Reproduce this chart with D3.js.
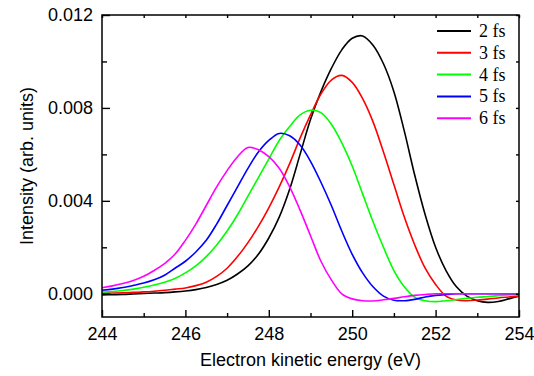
<!DOCTYPE html>
<html><head><meta charset="utf-8">
<script src="https://cdn.jsdelivr.net/npm/d3@7"></script>
<style>body{margin:0;background:#fff} svg{display:block}</style>
</head><body><svg id="c" width="534" height="376"></svg>
<script>
const energy = [244,244.25,244.5,244.75,245,245.25,245.5,245.75,246,246.25,246.5,246.75,247,247.25,247.5,247.75,248,248.25,248.5,248.75,249,249.25,249.5,249.75,250,250.25,250.5,250.75,251,251.25,251.5,251.75,252,252.25,252.5,252.75,253,253.25,253.5,253.75,254];
const s2fs = [-0.00005,-0.00004,-0.00003,-0.00001,0.00001,0.00003,0.00005,0.00008,0.00012,0.00018,0.00027,0.0004,0.00058,0.00085,0.0012,0.0017,0.0024,0.0033,0.0045,0.0060,0.0075,0.0087,0.0097,0.0105,0.0110,0.0111,0.0107,0.0099,0.0087,0.0070,0.0051,0.0034,0.0020,0.0010,0.0003,-0.0001,-0.0003,-0.00037,-0.00033,-0.00022,-0.0001];
const s3fs = [0.00002,0.00003,0.00004,0.00006,0.00008,0.00011,0.00015,0.0002,0.00025,0.00035,0.0005,0.00075,0.0011,0.0016,0.0022,0.0029,0.0037,0.0046,0.0056,0.0067,0.0077,0.0086,0.0092,0.0094,0.0091,0.0084,0.0074,0.0061,0.0047,0.0033,0.0021,0.0011,0.0004,-0.0001,-0.00027,-0.0003,-0.00027,-0.00023,-0.00018,-0.00014,-0.0001];
const s4fs = [0.00007,0.0001,0.00014,0.0002,0.00028,0.00038,0.0005,0.00066,0.0009,0.0012,0.0016,0.0021,0.0027,0.0034,0.0042,0.0050,0.0058,0.0066,0.0072,0.0077,0.0079,0.0078,0.0073,0.0065,0.0055,0.0043,0.0031,0.0020,0.0010,0.0003,-0.00015,-0.0003,-0.00034,-0.0003,-0.00025,-0.0002,-0.00015,-0.00012,-0.00008,-0.00005,-0.00003];
const s5fs = [0.00015,0.0002,0.00027,0.00036,0.00046,0.0006,0.0008,0.0011,0.0014,0.0018,0.0023,0.0030,0.0038,0.0046,0.0054,0.0061,0.0066,0.0069,0.0068,0.0064,0.0057,0.0048,0.0038,0.0027,0.0017,0.0009,0.0003,-0.0001,-0.00028,-0.0003,-0.00024,-0.00014,-0.00007,-0.00003,0,0,0,0,0,0,0];
const s6fs = [0.00026,0.00034,0.00044,0.00057,0.00075,0.001,0.0013,0.0017,0.0023,0.0030,0.0038,0.0046,0.0053,0.0059,0.0063,0.0062,0.0059,0.0054,0.0046,0.0036,0.0025,0.0014,0.0006,0.0,-0.00022,-0.0003,-0.00031,-0.00026,-0.0002,-0.00013,-0.00007,-0.00003,0,0,0,0,0,0,0,0,0];
const seriesNames = ["2 fs","3 fs","4 fs","5 fs","6 fs"];
const seriesValues = [s2fs,s3fs,s4fs,s5fs,s6fs];
const seriesColors = ["#000000","#ff0000","#00ff00","#0000ff","#ff00ff"];
const xMajorTicks = [244,246,248,250,252,254];
const xMinorTicks = [245,247,249,251,253];
const yMajorTicks = [0,0.004,0.008,0.012];
const yMinorTicks = [0.002,0.006,0.010];
const xTitle = "Electron kinetic energy (eV)";
const yTitle = "Intensity (arb. units)";

const svg = d3.select("#c");
const L=102,R=519,T=15,B=317;
const x = d3.scaleLinear().domain([244,254]).range([L,R]);
const y = d3.scaleLinear().domain([-0.001,0.012]).range([B,T]);
const sans = "'Liberation Sans', Arial, sans-serif";

svg.append("clipPath").attr("id","clip").append("rect").attr("x",L).attr("y",T).attr("width",R-L).attr("height",B-T);
const line = d3.line().x((d,i)=>x(energy[i])).y(d=>y(d)).curve(d3.curveCatmullRom.alpha(0.5));
const gl = svg.append("g").attr("clip-path","url(#clip)");
seriesValues.forEach((vals,k)=>{
  gl.append("path").attr("d",line(vals)).attr("fill","none").attr("stroke",seriesColors[k]).attr("stroke-width",1.6);
});

function styleAxis(g, showText){
  g.select(".domain").remove();
  g.selectAll("line").attr("stroke","#000").attr("stroke-width",1.4);
  g.selectAll("text").attr("font-family",sans).attr("font-size",18).attr("fill","#000");
  if(!showText) g.selectAll("text").remove();
}
styleAxis(svg.append("g").attr("transform",`translate(0,${B})`).call(d3.axisBottom(x).tickValues(xMajorTicks).tickSize(-7).tickSizeOuter(0).tickPadding(10).tickFormat(d3.format("d"))),true);
styleAxis(svg.append("g").attr("transform",`translate(0,${B})`).call(d3.axisBottom(x).tickValues(xMinorTicks).tickSize(-4).tickSizeOuter(0)),false);
styleAxis(svg.append("g").attr("transform",`translate(${L},0)`).call(d3.axisLeft(y).tickValues(yMajorTicks).tickSize(-8).tickSizeOuter(0).tickPadding(9).tickFormat(d3.format(".3f"))),true);
styleAxis(svg.append("g").attr("transform",`translate(${L},0)`).call(d3.axisLeft(y).tickValues(yMinorTicks).tickSize(-5).tickSizeOuter(0)),false);
styleAxis(svg.append("g").attr("transform",`translate(0,${T})`).call(d3.axisTop(x).tickValues(xMajorTicks.concat(xMinorTicks)).tickSize(-3).tickSizeOuter(0)),false);
styleAxis(svg.append("g").attr("transform",`translate(${R},0)`).call(d3.axisRight(y).tickValues(yMajorTicks.concat(yMinorTicks)).tickSize(-3).tickSizeOuter(0)),false);

svg.append("rect").attr("x",L).attr("y",T).attr("width",R-L).attr("height",B-T).attr("fill","none").attr("stroke","#000").attr("stroke-width",1.5);

svg.append("text").attr("x",(L+R)/2).attr("y",366).attr("text-anchor","middle").attr("font-family",sans).attr("font-size",18).text(xTitle);
svg.append("text").attr("transform",`translate(33,${(T+B)/2}) rotate(-90)`).attr("text-anchor","middle").attr("font-family",sans).attr("font-size",18).text(yTitle);

const lg = svg.append("g");
seriesNames.forEach((n,k)=>{
  const ly = 31 + k*21.8;
  lg.append("line").attr("x1",437).attr("x2",471).attr("y1",ly).attr("y2",ly).attr("stroke",seriesColors[k]).attr("stroke-width",2);
  lg.append("text").attr("x",479).attr("y",ly+6).attr("font-family","'Liberation Serif','Times New Roman',serif").attr("font-size",18).text(n);
});
</script></body></html>
